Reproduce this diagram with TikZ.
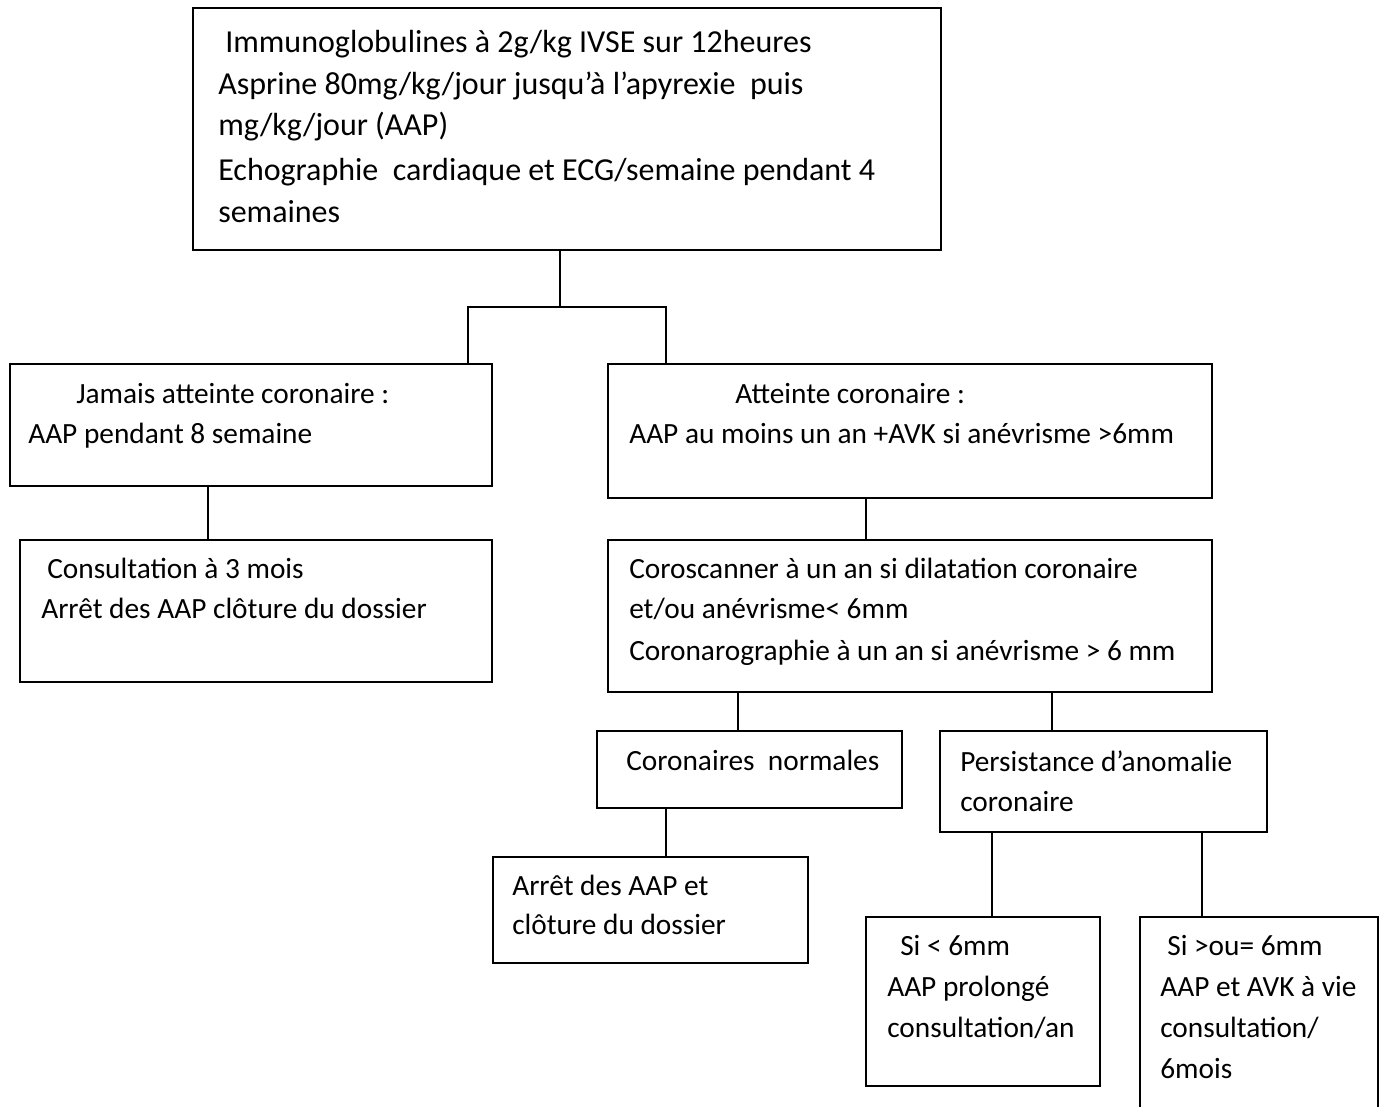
\documentclass[tikz,border=0pt]{standalone}
\usepackage{fontspec}
\setmainfont{Carlito}
\usetikzlibrary{fit}
\begin{document}
\begin{tikzpicture}[x=0.75pt,y=-0.75pt,
  box/.style={draw=black, line width=1.3pt, inner sep=0pt, fill=none},
  txt/.style={anchor=base west, inner sep=0pt, font=\fontsize{22}{26}\selectfont},
  toptxt/.style={txt, font=\fontsize{24}{28}\selectfont},
  link/.style={draw=black, line width=1.3pt}]
\useasboundingbox (0,0) rectangle (1383,1106);
\fill[white] (0,0) rectangle (1383,1106);
\begin{scope}
\clip (0,0) rectangle (1383,1106);
% boxes
\node[box, fit={(193,8) (941,250)}] (top) {};
\node[box, fit={(10,364) (492,486)}] (lbox) {};
\node[box, fit={(608,364) (1212,498)}] (rbox) {};
\node[box, fit={(20,540) (492,682)}] (cons) {};
\node[box, fit={(608,540) (1212,692)}] (scan) {};
\node[box, fit={(597,731) (902,808)}] (norm) {};
\node[box, fit={(940,731) (1267,832)}] (pers) {};
\node[box, fit={(493,857) (808,963)}] (arret) {};
\node[box, fit={(866,917) (1100,1086)}] (small) {};
\node[box, fit={(1140,917) (1378,1130)}] (big) {};
\end{scope}
% texts
\node[toptxt] (t1) at (225,53) {Immunoglobulines à 2g/kg IVSE sur 12heures};
\node[toptxt] (t2) at (218,94) {Asprine 80mg/kg/jour jusqu’à l’apyrexie\ \ puis};
\node[toptxt] (t3) at (218,135) {mg/kg/jour (AAP)};
\node[toptxt] (t4) at (218,180) {Echographie\ \ cardiaque et ECG/semaine pendant 4};
\node[toptxt] (t5) at (218,222) {semaines};
\node[txt] (l1) at (76,403) {Jamais atteinte coronaire :};
\node[txt] (l2) at (28,443) {AAP pendant 8 semaine};
\node[txt] (c1) at (47,578) {Consultation à 3 mois};
\node[txt] (c2) at (41,618) {Arrêt des AAP clôture du dossier};
\node[txt] (r1) at (735,403) {Atteinte coronaire :};
\node[txt] (r2) at (629,443) {AAP au moins un an +AVK si anévrisme >6mm};
\node[txt] (s1) at (629,578) {Coroscanner à un an si dilatation coronaire};
\node[txt] (s2) at (629,618) {et/ou anévrisme< 6mm};
\node[txt] (s3) at (629,660) {Coronarographie à un an si anévrisme > 6 mm};
\node[txt] (n1) at (626,770) {Coronaires\ \ normales};
\node[txt] (p1) at (960,771) {Persistance d’anomalie};
\node[txt] (p2) at (960,811) {coronaire};
\node[txt] (a1) at (512,895) {Arrêt des AAP et};
\node[txt] (a2) at (512,934) {clôture du dossier};
\node[txt] (m1) at (900,955) {Si < 6mm};
\node[txt] (m2) at (887,996) {AAP prolongé};
\node[txt] (m3) at (887,1037) {consultation/an};
\node[txt] (b1) at (1167,955) {Si >ou= 6mm};
\node[txt] (b2) at (1160,996) {AAP et AVK à vie};
\node[txt] (b3) at (1160,1037) {consultation/};
\node[txt] (b4) at (1160,1078) {6mois};
% connectors
\coordinate (split) at (560,307);
\draw[link] (top.south -| split) -- (split);
\draw[link] (lbox.north -| 468,0) |- (split);
\draw[link] (rbox.north -| 666,0) |- (split);
\draw[link] (lbox.south -| 208,0) -- (cons.north -| 208,0);
\draw[link] (rbox.south -| 866,0) -- (scan.north -| 866,0);
\draw[link] (scan.south -| 738,0) -- (norm.north -| 738,0);
\draw[link] (scan.south -| 1052,0) -- (pers.north -| 1052,0);
\draw[link] (norm.south -| 666,0) -- (arret.north -| 666,0);
\draw[link] (pers.south -| 992,0) -- (small.north -| 992,0);
\draw[link] (pers.south -| 1202,0) -- (big.north -| 1202,0);
\end{tikzpicture}
\end{document}
